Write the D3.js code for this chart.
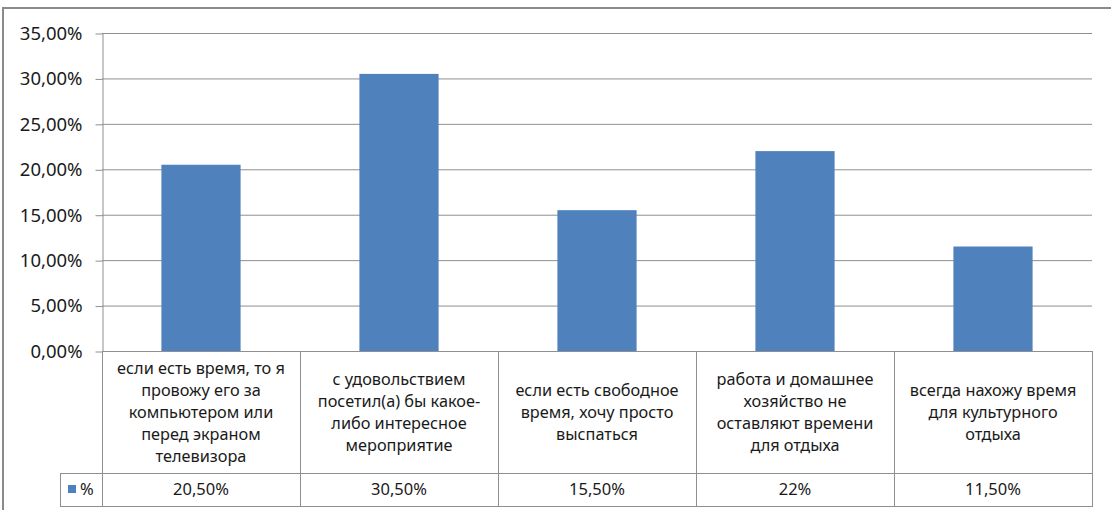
<!DOCTYPE html>
<html><head><meta charset="utf-8">
<script src="https://cdn.jsdelivr.net/npm/d3@7"></script>
<style>body{margin:0;background:#fff}svg{display:block}text{font-family:"Noto Sans",sans-serif;fill:#1a1a1a}</style>
</head><body><svg id="c" width="1111" height="510"></svg>
<script>
const categories = [
  ["если есть время, то я","провожу его за","компьютером или","перед экраном","телевизора"],
  ["с удовольствием","посетил(а) бы какое-","либо интересное","мероприятие"],
  ["если есть свободное","время, хочу просто","выспаться"],
  ["работа и домашнее","хозяйство не","оставляют времени","для отдыха"],
  ["всегда нахожу время","для культурного","отдыха"]
];
const values = [20.5, 30.5, 15.5, 22, 11.5];
const valueLabels = ["20,50%","30,50%","15,50%","22%","11,50%"];
const seriesName = "%";
const yTicks = [0,5,10,15,20,25,30,35];
const tickFmt = d => d3.format(".2f")(d).replace(".", ",") + "%";

const svg = d3.select("#c");
const L = 102, R = 1092, T = 33, B = 351;
const rowCat = 473, rowVal = 506, keyLeft = 60;
const grid = "#8f8f8f";

const idx = d3.range(categories.length);
const xCell = d3.scaleBand().domain(idx).range([L, R]).padding(0);
const xBar = d3.scaleBand().domain(idx).range([L, R]).paddingInner(0.6).paddingOuter(0.3);
const y = d3.scaleLinear().domain([0, 35]).range([B, T]);

// outer border
svg.append("path").attr("d", `M3,510V8H1111`).attr("fill","none").attr("stroke","#8a8a8a").attr("stroke-width",2);

// gridlines
svg.append("g").selectAll("line").data(yTicks.filter(d=>d>0)).join("line")
  .attr("x1", L).attr("x2", R).attr("y1", d=>y(d)+0.5).attr("y2", d=>y(d)+0.5)
  .attr("stroke", grid).attr("stroke-width",1);

// y axis
const yAxis = d3.axisLeft(y).tickValues(yTicks).tickFormat(tickFmt).tickSizeInner(7).tickSizeOuter(0).tickPadding(13);
const ga = svg.append("g").attr("transform",`translate(${L+0.5},0.5)`).call(yAxis);
ga.select(".domain").attr("stroke", grid);
ga.selectAll(".tick line").attr("stroke", grid);
ga.selectAll(".tick text").style("font-size","18.5px").attr("fill","#1a1a1a").attr("font-family",null);

// bars
svg.append("g").selectAll("rect").data(idx).join("rect")
  .attr("x", i=>xBar(i)).attr("width", xBar.bandwidth())
  .attr("y", i=>y(values[i])).attr("height", i=>y(0)-y(values[i]))
  .attr("fill", "#4f81bd");

// table lines
const tl = svg.append("g").attr("stroke", grid).attr("stroke-width",1).attr("fill","none");
tl.append("line").attr("x1", L).attr("x2", R).attr("y1", B+0.5).attr("y2", B+0.5);
tl.append("line").attr("x1", keyLeft).attr("x2", R).attr("y1", rowCat+0.5).attr("y2", rowCat+0.5);
tl.append("line").attr("x1", keyLeft).attr("x2", R).attr("y1", rowVal+0.5).attr("y2", rowVal+0.5);
tl.append("line").attr("x1", keyLeft+0.5).attr("x2", keyLeft+0.5).attr("y1", rowCat).attr("y2", rowVal+1);
tl.selectAll(".v").data(idx.concat([categories.length])).join("line").attr("class","v")
  .attr("x1", i=> (i<categories.length? xCell(i): R)+0.5)
  .attr("x2", i=> (i<categories.length? xCell(i): R)+0.5)
  .attr("y1", B).attr("y2", rowVal+1);

// category labels
const lh = 22;
const cg = svg.append("g");
idx.forEach(i=>{
  const lines = categories[i];
  const cx = xCell(i) + xCell.bandwidth()/2;
  const cy = (B + rowCat)/2;
  const t = cg.append("text").attr("text-anchor","middle").style("font-size","16.3px");
  lines.forEach((s,k)=>{
    t.append("tspan").attr("x", cx).attr("y", cy + (k - (lines.length-1)/2)*lh).attr("dy","0.35em").text(s);
  });
});

// value row
svg.append("g").selectAll("text").data(idx).join("text")
  .attr("x", i=>xCell(i)+xCell.bandwidth()/2).attr("y", (rowCat+rowVal)/2).attr("dy","0.35em")
  .attr("text-anchor","middle").style("font-size","16.5px").text(i=>valueLabels[i]);

// legend key
svg.append("rect").attr("x", 68).attr("y", 485).attr("width", 8).attr("height", 8).attr("fill","#4f81bd");
svg.append("text").attr("x", 80).attr("y", (rowCat+rowVal)/2).attr("dy","0.35em").style("font-size","16.5px").text(seriesName);
</script></body></html>
